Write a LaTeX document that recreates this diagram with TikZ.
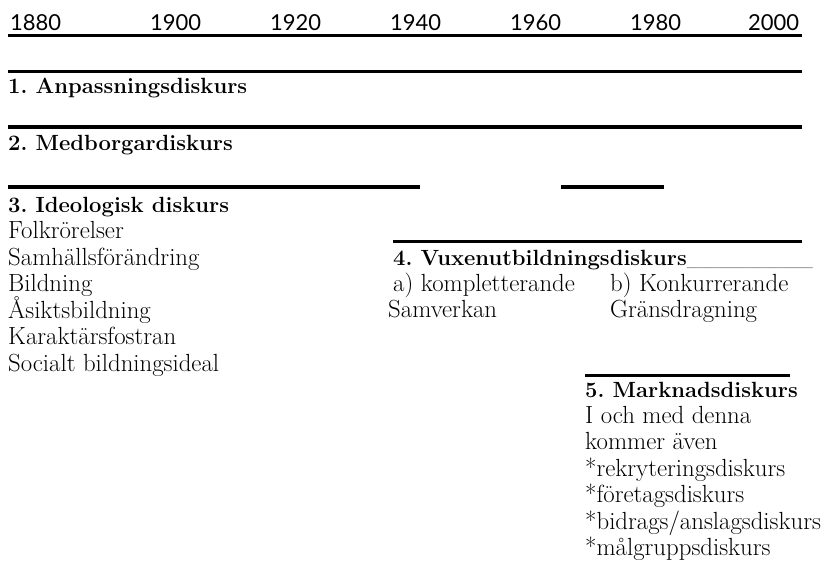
\documentclass[tikz,border=0pt]{standalone}
\usepackage{fontspec}
\usepackage{graphicx}
\newfontfamily\yearfont{Lato}
\tikzset{
  year/.style={anchor=base west, inner sep=0pt, font=\yearfont\fontsize{22}{22}\selectfont},
  head/.style={anchor=base west, inner sep=0pt, font=\fontsize{22}{26.5}\selectfont\bfseries},
  txt/.style={anchor=base west, inner sep=0pt, font=\fontsize{24.8}{26.5}\selectfont},
  bar/.style={line width=3.6pt, line cap=butt},
}
\newcommand{\lines}[1]{\vtop{\baselineskip=26.5pt\lineskiplimit=-20pt #1}}
\begin{document}
\frenchspacing
\begin{tikzpicture}[x=1pt,y=-1pt]
\useasboundingbox (0,0) rectangle (826,562);
% years
\node[year] (y1880) at (10,30) {1880};
\node[year] (y1900) at (150,30) {1900};
\node[year] (y1920) at (270,30) {1920};
\node[year] (y1940) at (390,30) {1940};
\node[year] (y1960) at (510,30) {1960};
\node[year] (y1980) at (630,30) {1980};
\node[year] (y2000) at (748,30) {2000};
\draw[bar] (8,35.5) -- (802,35.5);
% 1
\draw[bar] (8,71.5) -- (802,71.5);
\node[head] (d1) at (8,93) {1. Anpassningsdiskurs};
% 2
\draw[bar] (8,127) -- (802,127);
\node[head] (d2) at (8,150) {2. Medborgardiskurs};
% 3
\draw[bar] (8,187) -- (420,187);
\draw[bar] (561,187) -- (664,187);
\node[head] (d3) at (8,212) {3. Ideologisk diskurs};
\node[txt] (d3list) at (8,238.5) {\lines{\hbox{Folkrörelser}\hbox{Samhällsförändring}\hbox{Bildning}\hbox{Åsiktsbildning}\hbox{Karaktärsfostran}\hbox{Socialt bildningsideal}}};
% 4
\draw[bar] (393,241.5) -- (802,241.5);
\node[txt] (d4) at (393,265) {\textbf{\fontsize{22}{26.5}\selectfont 4. Vuxenutbildningsdiskurs}\resizebox{126pt}{!}{\_\_\_\_\_\_\_\_}};
\node[txt] (d4a) at (393,291) {a) kompletterande};
\node[txt] (d4as) at (388,317) {Samverkan};
\node[txt] (d4b) at (610,291) {b) Konkurrerande};
\node[txt] (d4bs) at (610,317) {Gränsdragning};
% 5
\draw[bar] (585,375.5) -- (790,375.5);
\node[head] (d5) at (585,397) {5. Marknadsdiskurs};
\node[txt] (d5list) at (585,423) {\lines{\hbox{I och med denna}\hbox{kommer även}\hbox{*rekryteringsdiskurs}\hbox{*företagsdiskurs}\hbox{*bidrags/anslagsdiskurs}\hbox{*målgruppsdiskurs}}};
\end{tikzpicture}
\end{document}
